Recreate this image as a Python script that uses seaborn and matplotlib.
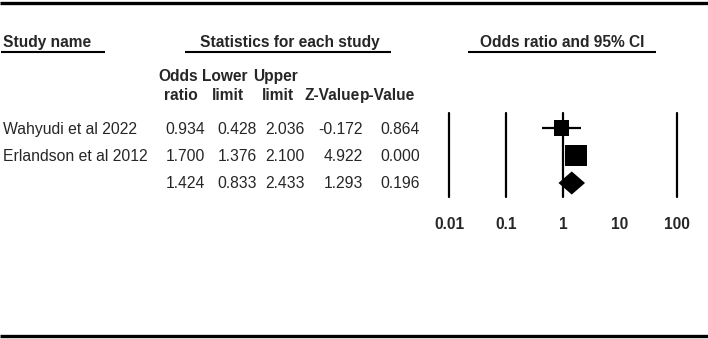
import matplotlib
matplotlib.use("Agg")
import matplotlib.pyplot as plt
from matplotlib.lines import Line2D
import seaborn as sns
import pandas as pd

# ---- data ----
study_names = ["Wahyudi et al 2022", "Erlandson et al 2012", ""]
odds_ratio = [0.934, 1.700, 1.424]
lower_limit = [0.428, 1.376, 0.833]
upper_limit = [2.036, 2.100, 2.433]
z_value = [-0.172, 4.922, 1.293]
p_value = [0.864, 0.000, 0.196]
is_summary = [False, False, True]
tick_values = [0.01, 0.1, 1, 10, 100]
tick_labels = ["0.01", "0.1", "1", "10", "100"]
ref_lines = [0.01, 0.1, 1, 100]
marker_area = [117, 250]  # style: square sizes (pt^2)

sns.set_theme(style="white")
plt.rcParams["font.family"] = ["Liberation Sans", "DejaVu Sans"]

W, H = 708, 339
fig = plt.figure(figsize=(W / 100, H / 100), dpi=100)
fig.patch.set_facecolor("white")


def fx(x):
    return x / W


def fy(y):
    return 1 - y / H


def hline(x0, x1, y, lw):
    fig.add_artist(Line2D([fx(x0), fx(x1)], [fy(y), fy(y)], color="black",
                          lw=lw, transform=fig.transFigure, solid_capstyle="butt"))


# rules
hline(0, 708, 3, 2.4)
hline(0, 708, 335.5, 2.4)
hline(1, 105, 51.5, 1.5)
hline(185, 391, 51.5, 1.5)
hline(468, 656, 51.5, 1.5)

HS = 11.2  # header font size
DS = 11.3  # data font size

# section headers
fig.text(fx(3), fy(47), "Study name", ha="left", va="baseline", fontsize=HS, fontweight="bold")
fig.text(fx(289.5), fy(47), "Statistics for each study", ha="center", va="baseline", fontsize=HS, fontweight="bold")
fig.text(fx(562.5), fy(47), "Odds ratio and 95% CI", ha="center", va="baseline", fontsize=HS, fontweight="bold")

# column headers
col_head1 = [("Odds", 178), ("Lower", 224.5), ("Upper", 275)]
col_head2 = [("ratio", 181), ("limit", 227.5), ("limit", 278), ("Z-Value", 332), ("p-Value", 388)]
for t, x in col_head1:
    fig.text(fx(x), fy(81), t, ha="center", va="baseline", fontsize=HS, fontweight="bold")
for t, x in col_head2:
    fig.text(fx(x), fy(100), t, ha="center", va="baseline", fontsize=HS, fontweight="bold")

# table rows
row_base = [134, 161, 188]
col_right = [205, 257, 305, 363, 420]
for i in range(len(study_names)):
    yb = row_base[i]
    fig.text(fx(3), fy(yb), study_names[i], ha="left", va="baseline", fontsize=DS)
    vals = [f"{odds_ratio[i]:.3f}", f"{lower_limit[i]:.3f}", f"{upper_limit[i]:.3f}",
            f"{z_value[i]:.3f}", f"{p_value[i]:.3f}"]
    for v, xr in zip(vals, col_right):
        fig.text(fx(xr), fy(yb), v, ha="right", va="baseline", fontsize=DS)

# ---- forest plot axes ----
ax = fig.add_axes([fx(449), fy(197), (677 - 449) / W, (197 - 113) / H])
ax.set_facecolor("none")
ax.set_xscale("log")
for r in ref_lines:
    ax.axvline(r, color="black", lw=1.6, clip_on=False, zorder=1)

df = pd.DataFrame({"or": odds_ratio, "lo": lower_limit, "hi": upper_limit,
                   "row": list(range(len(odds_ratio))), "summary": is_summary})
studies = df[~df["summary"]]
ax.hlines(studies["row"], studies["lo"], studies["hi"], color="black", lw=1.6, zorder=2)
sns.scatterplot(data=studies, x="or", y="row", marker="s", s=marker_area, color="black",
                edgecolor="black", linewidth=0, ax=ax, zorder=3, legend=False)
summ = df[df["summary"]]
for _, r in summ.iterrows():
    h = 0.42
    ax.fill([r["lo"], r["or"], r["hi"], r["or"]], [r["row"], r["row"] - h, r["row"], r["row"] + h],
            color="black", zorder=3, lw=0)

ax.set_xlim(0.01, 100)
ax.set_ylim(2 + 14 / 27.5, -15 / 27.5)
ax.set_xticks(tick_values)
ax.set_xticklabels(tick_labels, fontsize=HS, fontweight="bold")
ax.minorticks_off()
ax.tick_params(axis="x", length=0, pad=14.3)
ax.set_yticks([])
ax.set_xlabel("")
ax.set_ylabel("")
for s in ax.spines.values():
    s.set_visible(False)

fig.savefig("out.png", dpi=100, facecolor="white")
